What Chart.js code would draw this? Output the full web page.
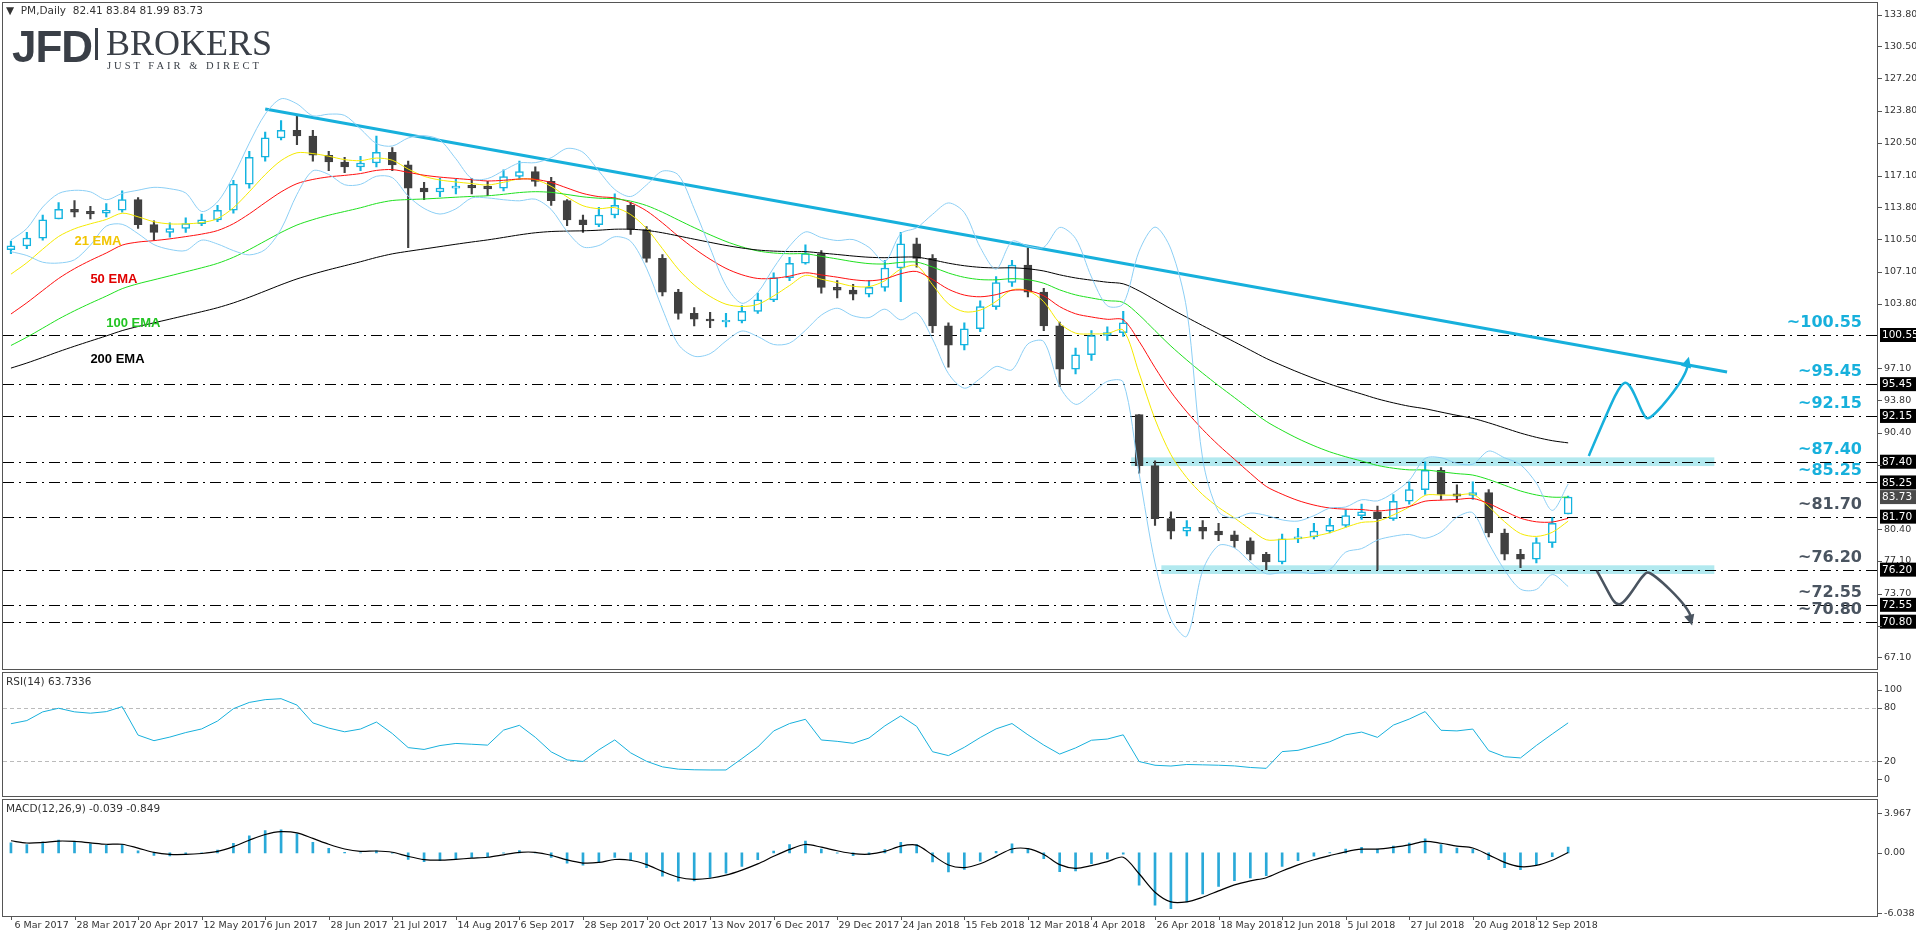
<!DOCTYPE html>
<html><head><meta charset="utf-8">
<script src="https://cdn.jsdelivr.net/npm/chart.js@4.4.1/dist/chart.umd.min.js"></script>
<style>
body{margin:0;background:#fff;width:1916px;height:936px;overflow:hidden;font-family:Tahoma,"DejaVu Sans",sans-serif;position:relative}
.pane{position:absolute;left:0;width:1916px}
.frame{position:absolute;left:2px;width:1876px;border:1px solid #555;box-sizing:border-box;pointer-events:none}
.hdr{position:absolute;font-size:10.5px;color:#333;font-family:"DejaVu Sans",sans-serif}
</style></head><body>
<div class="pane" style="top:0;height:670px"><canvas id="c1" width="1916" height="670"></canvas></div>
<div class="pane" style="top:670px;height:128px"><canvas id="c2" width="1916" height="128"></canvas></div>
<div class="pane" style="top:798px;height:138px"><canvas id="c3" width="1916" height="138"></canvas></div>
<div class="frame" style="top:2px;height:668px"></div>
<div class="frame" style="top:672px;height:125px"></div>
<div class="frame" style="top:799px;height:118px"></div>
<div class="hdr" style="left:6px;top:4px">&#9660;&nbsp; PM,Daily&nbsp; 82.41 83.84 81.99 83.73</div>
<div style="position:absolute;left:12px;top:22px;font:bold 44px 'Liberation Sans',Arial,sans-serif;color:#3a3f47;letter-spacing:-1px">JFD</div>
<div style="position:absolute;left:95px;top:28px;width:3px;height:32px;background:#3a3f47"></div>
<div style="position:absolute;left:106px;top:22px;font:36px 'Liberation Serif',serif;color:#3a3f47">BROKERS</div>
<div style="position:absolute;left:107px;top:60px;font:10.5px 'Liberation Serif',serif;color:#3a3f47;letter-spacing:3px">JUST FAIR &amp; DIRECT</div>
<div class="hdr" style="left:6px;top:675px">RSI(14) 63.7336</div>
<div class="hdr" style="left:6px;top:802px">MACD(12,26,9) -0.039 -0.849</div>
<script>
// ---- data (4-trading-day bars, 6 Mar 2017 .. 18 Sep 2018) ----
const closes=[109.8,110.6,112.5,113.6,113.3,113.2,113.5,114.6,112.0,111.2,
111.6,112.1,112.5,113.5,116.2,119.0,121.0,121.8,121.2,119.2,
118.5,118.0,118.4,119.5,118.2,115.8,115.4,115.8,116.0,115.9,
115.8,117.0,117.5,116.5,114.5,112.5,112.0,113.0,114.0,111.5,
108.5,105.0,102.8,102.2,102.0,102.0,103.0,104.2,106.5,108.0,
109.0,105.5,105.2,104.8,105.5,107.5,110.0,108.5,101.5,99.5,
101.2,103.5,106.0,107.8,105.0,101.5,97.0,98.5,100.5,100.8,
101.8,87.0,81.5,80.2,80.6,80.2,79.8,79.2,77.8,77.0,
79.4,79.6,80.2,80.8,81.8,82.2,81.5,83.3,84.5,86.5,
84.0,83.9,84.2,80.0,77.8,77.3,79.0,81.0,83.73];
const highs=[110.3,111.2,113.0,114.3,114.5,113.9,114.2,115.5,114.8,112.4,
112.2,112.7,113.1,114.0,116.6,119.6,121.6,122.8,123.3,121.8,
119.6,119.0,119.1,121.2,120.0,118.6,116.4,116.8,116.7,116.8,
116.5,117.7,118.6,118.0,116.9,114.6,113.0,113.8,115.2,114.3,
111.8,108.9,105.3,103.4,102.9,102.8,103.6,104.9,107.0,108.6,
109.9,109.3,106.2,105.8,106.2,108.3,111.2,110.6,108.9,101.8,
101.8,104.1,106.6,108.3,109.6,105.4,101.9,99.2,101.0,101.4,
103.0,92.3,87.5,82.2,81.3,81.3,81.0,80.2,79.5,78.0,
79.9,80.5,81.0,81.5,82.4,83.0,82.8,84.0,85.3,87.4,
86.8,85.0,85.3,84.5,80.4,78.3,79.5,81.6,83.84];
const lows=[109.0,109.5,110.4,112.6,112.8,112.6,112.8,113.3,111.6,110.4,
110.7,111.2,111.9,112.3,113.2,115.8,118.6,120.8,120.3,118.6,
117.6,117.4,117.6,118.0,117.6,109.6,114.6,114.9,115.2,115.2,
115.0,115.5,116.7,116.0,114.0,111.9,111.2,111.8,112.7,111.0,
108.1,104.6,102.2,101.5,101.3,101.4,101.8,102.8,104.0,106.2,
107.9,104.9,104.4,104.2,104.5,105.1,104.0,107.6,100.8,97.2,
99.0,100.9,103.2,105.6,104.5,101.0,95.2,96.5,97.9,100.0,
100.4,86.2,80.8,79.4,79.7,79.4,79.2,78.5,77.2,76.2,
76.8,79.0,79.4,80.0,80.6,81.4,76.2,81.3,83.0,84.0,
83.5,83.2,83.5,79.6,77.2,76.4,76.9,78.5,81.99];
const firstOpen=109.4;
const dateLabels=['6 Mar 2017','28 Mar 2017','20 Apr 2017','12 May 2017','6 Jun 2017','28 Jun 2017','21 Jul 2017','14 Aug 2017','6 Sep 2017','28 Sep 2017','20 Oct 2017','13 Nov 2017','6 Dec 2017','29 Dec 2017','24 Jan 2018','15 Feb 2018','12 Mar 2018','4 Apr 2018','26 Apr 2018','18 May 2018','12 Jun 2018','5 Jul 2018','27 Jul 2018','20 Aug 2018','12 Sep 2018'];
const priceTicks=[133.80,130.50,127.20,123.80,120.50,117.10,113.80,110.50,107.10,103.80,97.10,93.80,90.40,87.10,80.40,77.10,73.70,70.40,67.10];
const levels=[100.55,95.45,92.15,87.40,85.25,81.70,76.20,72.55,70.80];
const levelIsBull=[true,true,true,true,true,false,false,false,false];
const lastPrice=83.73;
const trendPts=[[16,124.0],[108,96.7]];
const zones=[[87.40,70.5,107.2],[76.20,72.4,107.2]];
const upArrow=[[99.3,88.0],[101.6,95.6],[103.0,91.9],[105.6,98.3]];
const downArrow=[[99.8,76.1],[101.2,72.6],[103.0,75.9],[105.8,70.4]];
const emaSeeds={e21:105.5,e50:101.5,e100:98.6,e200:96.6};
const rsiTicks=[100,80,20,0];
const macdTicks=[3.967,0,-6.038];

// ---- derived ----
const N=closes.length, TOT=118;
const labels=Array.from({length:TOT},(_,i)=>String(i));
const opens=closes.map((c,i)=>{const p=i?closes[i-1]:firstOpen;return Math.min(highs[i],Math.max(lows[i],p));});
function ema(seed,a){let e=seed;return closes.map(c=>(e=e+a*(c-e)));}
const pad=a=>a.concat(Array(TOT-a.length).fill(null));
const e21=ema(emaSeeds.e21,0.317),e50=ema(emaSeeds.e50,0.148),e100=ema(emaSeeds.e100,0.077),e200=ema(emaSeeds.e200,0.039);
const bbU=[],bbL=[];
closes.forEach((c,i)=>{const w=closes.slice(Math.max(0,i-4),i+1);const m=w.reduce((s,v)=>s+v,0)/w.length;const sd=Math.sqrt(w.reduce((s,v)=>s+(v-m)*(v-m),0)/w.length);bbU.push(m+2*sd+0.6);bbL.push(m-2*sd-0.6);});
let ag=0.6,al=0.4;const rsi=closes.map((c,i)=>{if(!i)return 62;const d=c-closes[i-1];ag=(ag*5+Math.max(d,0))/6;al=(al*5+Math.max(-d,0))/6;return 100-100/(1+ag/(al||1e-6));});
let f=110.6,s=109.0,sg=1.5;const macd=[],sig=[];
closes.forEach(c=>{f+=0.488*(c-f);s+=0.265*(c-s);const m=f-s;sg+=0.59*(m-sg);macd.push(m);sig.push(sg);});

const bullCol='#14b4e0',bearCol='#404040';
const isBull=closes.map((c,i)=>c>=opens[i]);
const rightW=s=>{s.width=38;};
const commonX={type:'category',labels,offset:true,display:false,grid:{display:false}};
const rightAxis=(min,max,ticks,fmt)=>({position:'right',min,max,afterFit:rightW,grid:{display:false,drawTicks:false},border:{display:false},
 afterBuildTicks:sc=>{sc.ticks=ticks.map(v=>({value:v}));},
 ticks:{autoSkip:false,color:'#333',font:{size:9.5,family:'DejaVu Sans'},padding:6,callback:fmt}});
const tickMarks={id:'tm',afterDraw(ch){const c=ch.ctx,y=ch.scales.y,x0=ch.chartArea.right;c.save();c.strokeStyle='#555';c.lineWidth=1;y.ticks.forEach(t=>{const py=Math.round(y.getPixelForValue(t.value))+0.5;c.beginPath();c.moveTo(x0,py);c.lineTo(x0+4,py);c.stroke();});c.restore();}};

// ---- main chart ----
const overlay={id:'ov',
 beforeDatasetsDraw(ch){const c=ch.ctx,x=ch.scales.x,y=ch.scales.y,a=ch.chartArea;c.save();
  c.fillStyle='#b2e9ef';zones.forEach(z=>{const y1=y.getPixelForValue(z[0]+0.45),y2=y.getPixelForValue(z[0]-0.45);const x1=x.getPixelForValue(z[1]),x2=x.getPixelForValue(z[2]);c.fillRect(x1,y1,x2-x1,y2-y1);});
  c.strokeStyle='#000';c.lineWidth=1;c.setLineDash([11,5,2,5]);levels.forEach(v=>{const py=Math.round(y.getPixelForValue(v))+0.5;c.beginPath();c.moveTo(a.left,py);c.lineTo(a.right,py);c.stroke();});
  c.restore();},
 afterDraw(ch){const c=ch.ctx,x=ch.scales.x,y=ch.scales.y,a=ch.chartArea;c.save();
  const arrow=(pts,col)=>{const P=pts.map(p=>[x.getPixelForValue(p[0]),y.getPixelForValue(p[1])]);c.strokeStyle=col;c.fillStyle=col;c.lineWidth=2.5;c.beginPath();c.moveTo(P[0][0],P[0][1]);
   c.bezierCurveTo(P[0][0]+(P[1][0]-P[0][0])*0.6,P[1][1]+ (P[0][1]-P[1][1])*0.3,P[1][0]-6,P[1][1],P[1][0],P[1][1]);
   c.bezierCurveTo(P[1][0]+8,P[1][1],P[2][0]-6,P[2][1],P[2][0],P[2][1]);
   c.bezierCurveTo(P[2][0]+6,P[2][1],P[3][0]-4,P[3][1]+(P[2][1]-P[3][1])*0.4,P[3][0]-1,P[3][1]+(P[2][1]>P[3][1]?8:-8));c.stroke();
   const ang=(P[2][1]>P[3][1]?-1.3:1.3);
   const tx=P[3][0],ty=P[3][1];c.beginPath();c.moveTo(tx,ty);c.lineTo(tx-12*Math.cos(ang-0.45),ty-12*Math.sin(ang-0.45));c.lineTo(tx-12*Math.cos(ang+0.45),ty-12*Math.sin(ang+0.45));c.closePath();c.fill();};
  arrow(upArrow,'#17b0dc');arrow(downArrow,'#4a5460');
  c.font='bold 16px "DejaVu Sans",sans-serif';c.textAlign='right';c.textBaseline='bottom';
  levels.forEach((v,i)=>{c.fillStyle=levelIsBull[i]?'#17b0dc':'#4a5460';c.fillText('~'+v.toFixed(2),a.right-16,y.getPixelForValue(v)-4);});
  c.font='10.5px "DejaVu Sans",sans-serif';c.textAlign='left';c.textBaseline='middle';
  const box=(v,bg)=>{const py=y.getPixelForValue(v);c.fillStyle=bg;c.fillRect(a.right+2,py-7,37,14);c.fillStyle='#fff';c.fillText(v.toFixed(2),a.right+4,py+0.5);};
  levels.forEach(v=>box(v,'#000'));box(lastPrice,'#4a4a4a');
  c.font='bold 13px "Liberation Sans",Arial,sans-serif';
  [['21 EMA','#f2c500',4,110.3],['50 EMA','#e00000',5,106.3],['100 EMA','#22c422',6,101.8],['200 EMA','#000',5,98.0]].forEach(t=>{c.fillStyle=t[1];c.fillText(t[0],x.getPixelForValue(t[2]),y.getPixelForValue(t[3]));});
  c.restore();}};
const lineDs=(d,col,w)=>({type:'line',data:pad(d),borderColor:col,borderWidth:w||1,pointRadius:0,tension:0.3,fill:false});
const trend=Array(TOT).fill(null);trendPts.forEach(p=>trend[p[0]]=p[1]);
new Chart(document.getElementById('c1'),{type:'bar',data:{labels,datasets:[
 lineDs(bbU,'#8ccff5'),lineDs(bbL,'#8ccff5'),
 lineDs(e200,'#000'),lineDs(e100,'#1fe01f'),lineDs(e50,'#ff1010'),lineDs(e21,'#f5ea00'),
 {type:'bar',data:pad(closes.map((c,i)=>[Math.min(lows[i],c,opens[i]),Math.max(highs[i],c,opens[i])])),backgroundColor:pad(isBull.map(b=>b?bullCol:bearCol)),barThickness:1.5,grouped:false,order:1},
 {type:'bar',data:pad(closes.map((c,i)=>{const lo=Math.min(c,opens[i]),hi=Math.max(c,opens[i]);return hi-lo<0.15?[lo-0.08,hi+0.08]:[lo,hi];})),backgroundColor:pad(isBull.map(b=>b?'#fff':bearCol)),borderColor:pad(isBull.map(b=>b?bullCol:bearCol)),borderWidth:1.5,borderSkipped:false,barThickness:8,grouped:false,order:0},
 {type:'line',data:trend,spanGaps:true,borderColor:'#17b0dc',borderWidth:3,pointRadius:0}
]},options:{animation:false,responsive:false,devicePixelRatio:1,maintainAspectRatio:false,
 layout:{padding:{left:3,top:3,right:0,bottom:2}},plugins:{legend:{display:false},tooltip:{enabled:false}},
 scales:{x:commonX,y:rightAxis(67.0,134.1,priceTicks,v=>v.toFixed(2))}},plugins:[overlay,tickMarks]});

// ---- RSI ----
const rsiGuides={id:'rg',beforeDatasetsDraw(ch){const c=ch.ctx,y=ch.scales.y,a=ch.chartArea;c.save();c.strokeStyle='#bbb';c.setLineDash([4,3]);[80,20].forEach(v=>{const py=Math.round(y.getPixelForValue(v))+0.5;c.beginPath();c.moveTo(a.left,py);c.lineTo(a.right,py);c.stroke();});c.restore();}};
new Chart(document.getElementById('c2'),{type:'line',data:{labels,datasets:[{data:pad(rsi),borderColor:'#17b0dc',borderWidth:1,pointRadius:0,tension:0}]},
 options:{animation:false,responsive:false,devicePixelRatio:1,maintainAspectRatio:false,layout:{padding:{left:3,top:3,bottom:2}},
 plugins:{legend:{display:false},tooltip:{enabled:false}},scales:{x:commonX,y:rightAxis(-8,109,rsiTicks,v=>String(v))}},plugins:[rsiGuides,tickMarks]});

// ---- MACD ----
const dateAxis={id:'da',afterDraw(ch){const c=ch.ctx,x=ch.scales.x,a=ch.chartArea;c.save();c.font='9.5px "DejaVu Sans",sans-serif';c.fillStyle='#333';c.strokeStyle='#555';c.textBaseline='top';c.textAlign='left';
 dateLabels.forEach((t,k)=>{const px=Math.round(x.getPixelForValue(k*4))+0.5;c.beginPath();c.moveTo(px,a.bottom);c.lineTo(px,a.bottom+4);c.stroke();c.fillText(t,px+(k?1:3),a.bottom+5);});c.restore();}};
new Chart(document.getElementById('c3'),{type:'bar',data:{labels,datasets:[
 {type:'line',data:pad(sig),borderColor:'#000',borderWidth:1.2,pointRadius:0,tension:0.3,order:0},
 {type:'bar',data:pad(macd),backgroundColor:'#2aa9d8',barThickness:2,order:1}]},
 options:{animation:false,responsive:false,devicePixelRatio:1,maintainAspectRatio:false,layout:{padding:{left:3,top:3,bottom:0}},
 plugins:{legend:{display:false},tooltip:{enabled:false}},
 scales:{x:Object.assign({},commonX,{display:true,ticks:{display:false},grid:{display:false,drawTicks:false},border:{display:false},afterFit:s=>{s.height=20;}}),
  y:rightAxis(-6.3,4.3,macdTicks,v=>v===0?'0.00':String(v))}},plugins:[dateAxis,tickMarks]});
</script></body></html>
